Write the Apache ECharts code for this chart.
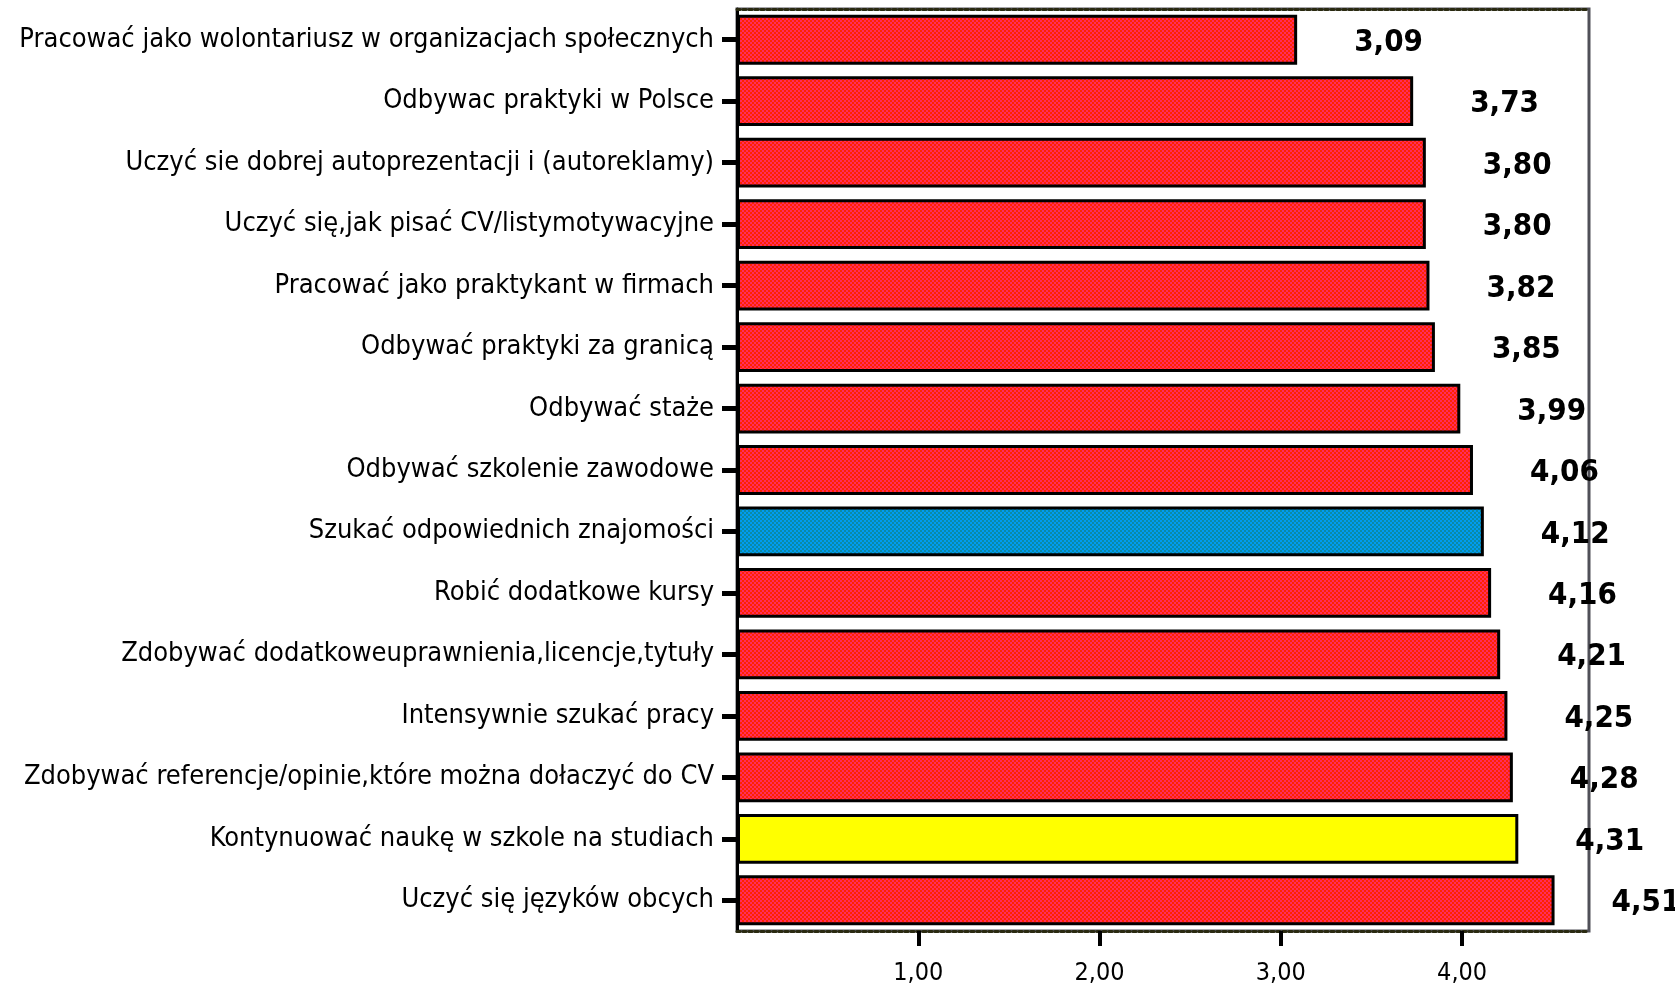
<!DOCTYPE html>
<html>
<head>
<meta charset="utf-8">
<style>
  html, body { margin: 0; padding: 0; background: #fff; }
  #chart { width: 1675px; height: 988px; }
</style>
<script src="https://cdn.jsdelivr.net/npm/echarts@6/dist/echarts.min.js"></script>
</head>
<body>
<div id="chart"></div>
<script>
// categories, top to bottom
const categories = [
  'Pracować jako wolontariusz w organizacjach społecznych',
  'Odbywac praktyki w Polsce',
  'Uczyć sie dobrej autoprezentacji i (autoreklamy)',
  'Uczyć się,jak pisać CV/listymotywacyjne',
  'Pracować jako praktykant w firmach',
  'Odbywać praktyki za granicą',
  'Odbywać staże',
  'Odbywać szkolenie zawodowe',
  'Szukać odpowiednich znajomości',
  'Robić dodatkowe kursy',
  'Zdobywać dodatkoweuprawnienia,licencje,tytuły',
  'Intensywnie szukać pracy',
  'Zdobywać referencje/opinie,które można dołaczyć do CV',
  'Kontynuować naukę w szkole na studiach',
  'Uczyć się języków obcych'
];
const means = [3.09, 3.73, 3.80, 3.80, 3.82, 3.85, 3.99, 4.06, 4.12, 4.16, 4.21, 4.25, 4.28, 4.31, 4.51];
const tickValues = [1, 2, 3, 4];

// small checkered fill like the old SPSS print
function checker(c1, c2) {
  const cv = document.createElement('canvas');
  cv.width = 4; cv.height = 4;
  const ctx = cv.getContext('2d');
  ctx.fillStyle = c1; ctx.fillRect(0, 0, 4, 4);
  ctx.fillStyle = c2; ctx.fillRect(0, 0, 2, 2); ctx.fillRect(2, 2, 2, 2);
  return { image: cv, repeat: 'repeat' };
}
const red = checker('#ff2200', '#ff2d5c');
const fills = {
  'Szukać odpowiednich znajomości': checker('#0a8aa8', '#009cf2'),
  'Kontynuować naukę w szkole na studiach': '#ffff00'
};

const fmt = v => v.toFixed(2).replace('.', ',');
const labelFont = '"DejaVu Sans Condensed", "DejaVu Sans", sans-serif';
const dotted = { color: '#2a2a10', width: 3, type: [3, 3] };

const chart = echarts.init(document.getElementById('chart'), null, { renderer: 'canvas' });

chart.setOption({
  backgroundColor: '#ffffff',
  animation: false,
  grid: {
    left: 737, right: 86, top: 9, bottom: 57,
    containLabel: false,
    outerBoundsMode: 'none',
    show: true, borderColor: '#505058', borderWidth: 3, backgroundColor: 'transparent'
  },
  xAxis: [{
    type: 'value',
    min: 0, max: 4.7,
    splitLine: { show: false },
    axisLine: { show: true, lineStyle: dotted },
    axisTick: { show: true, length: 15, customValues: tickValues, lineStyle: { color: '#000', width: 4 } },
    axisLabel: {
      customValues: tickValues,
      formatter: v => fmt(v),
      margin: 30,
      fontFamily: labelFont, fontSize: 25, color: '#000'
    }
  }, {
    // top frame line only
    type: 'value',
    position: 'top',
    min: 0, max: 4.7,
    splitLine: { show: false },
    axisLine: { show: true, lineStyle: dotted },
    axisTick: { show: false },
    axisLabel: { show: false }
  }],
  yAxis: {
    type: 'category',
    inverse: true,
    data: categories,
    axisLine: { show: true, lineStyle: { color: '#000', width: 3 } },
    axisTick: { show: true, length: 15, alignWithLabel: true, lineStyle: { color: '#000', width: 5 } },
    axisLabel: { margin: 23, fontFamily: labelFont, fontSize: 27, color: '#000' }
  },
  series: [{
    type: 'bar',
    barCategoryGap: '19%',
    data: means.map((v, i) => ({
      value: v,
      itemStyle: { color: fills[categories[i]] || red }
    })),
    itemStyle: { borderColor: '#000', borderWidth: 3 },
    label: {
      show: true,
      position: 'right',
      distance: 57,
      offset: [0, 3],
      formatter: p => fmt(p.value),
      fontFamily: labelFont, fontWeight: 'bold', fontSize: 31, color: '#000'
    }
  }]
});
</script>
</body>
</html>
